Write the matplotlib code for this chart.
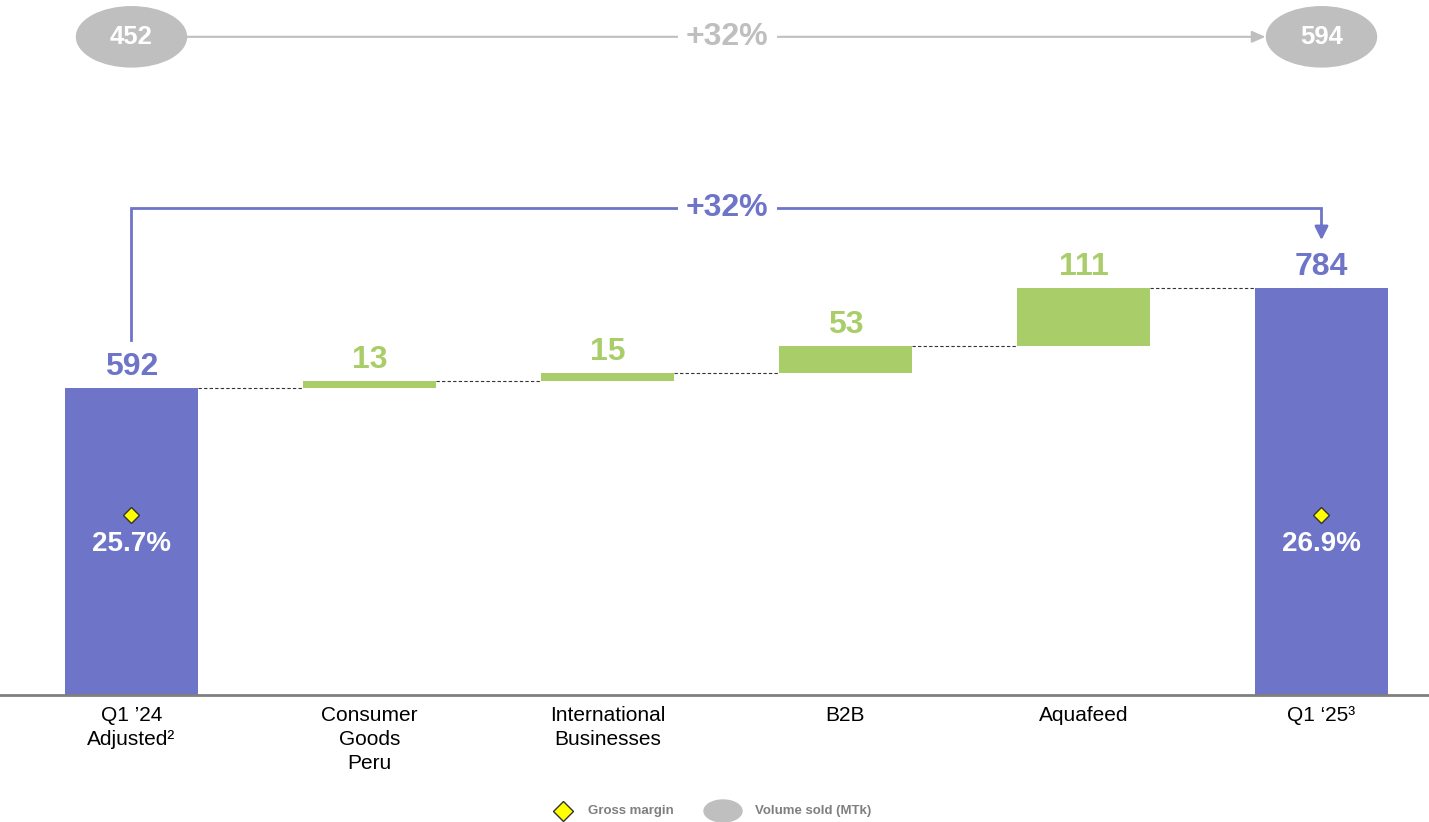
import matplotlib.pyplot as plt
from matplotlib.patches import Ellipse
from matplotlib.lines import Line2D

plt.rcParams['font.family'] = ['Liberation Sans', 'DejaVu Sans']

# Data
categories = ["Q1 \u201924\nAdjusted\u00b2", "Consumer\nGoods\nPeru", "International\nBusinesses",
              "B2B", "Aquafeed", "Q1 \u201825\u00b3"]
start_value = 592
changes = [13, 15, 53, 111]
end_value = 784
margins = ["25.7%", "26.9%"]
volume_start = 452
volume_end = 594
growth_label = "+32%"

purple = "#6E74C8"
green = "#A9CD68"
grey = "#BFBFBF"

fig = plt.figure(figsize=(14.29, 8.22), dpi=100)
ax = fig.add_axes([0, 127 / 822, 1, 695 / 822])
ax.set_xlim(-0.5525, 5.4517)
ax.set_ylim(0, 1340)

w = 0.56
# totals
ax.bar(0, start_value, width=w, color=purple)
ax.bar(5, end_value, width=w, color=purple)

# waterfall steps
level = start_value
for i, c in enumerate(changes, start=1):
    ax.bar(i, c, bottom=level, width=w, color=green)
    ax.plot([i - 1 + w / 2, i - w / 2], [level, level], ls=(0, (3, 2)), color="#333333", lw=0.8)
    ax.text(i, level + c + 12, str(c), ha="center", va="bottom", color=green,
            fontsize=23, fontweight="bold")
    level += c
ax.plot([4 + w / 2, 5 - w / 2], [level, level], ls=(0, (3, 2)), color="#333333", lw=0.8)

ax.text(0, start_value + 12, str(start_value), ha="center", va="bottom", color=purple,
        fontsize=23, fontweight="bold")
ax.text(5, end_value + 12, str(end_value), ha="center", va="bottom", color=purple,
        fontsize=23, fontweight="bold")

# gross margin markers
for x, m in zip([0, 5], margins):
    ax.plot(x, 347, marker="D", ms=8, color="#FFFF00", mec="#333333", mew=1)
    ax.text(x, 292, m, ha="center", va="center", color="white", fontsize=20, fontweight="bold")

# purple growth bracket
ax.plot([0, 0, 5, 5], [685, 939, 939, 900], color=purple, lw=2, solid_joinstyle="miter")
ax.annotate("", xy=(5, 877), xytext=(5, 905),
            arrowprops=dict(arrowstyle="-|>,head_length=0.8,head_width=0.4", color=purple,
                            lw=2, shrinkA=0, shrinkB=0))
ax.text(2.503, 939, growth_label, ha="center", va="center", color=purple, fontsize=23,
        fontweight="bold", bbox=dict(facecolor="white", edgecolor="none", pad=6))

# volume row
vy = 1269
for x, v in zip([0, 5], [volume_start, volume_end]):
    ax.add_patch(Ellipse((x, vy), 0.462, 116, color=grey, clip_on=False))
    ax.text(x, vy, str(v), ha="center", va="center", color="white", fontsize=18.5,
            fontweight="bold")
ax.annotate("", xy=(4.7647, vy), xytext=(0.231, vy),
            arrowprops=dict(arrowstyle="-|>,head_length=0.8,head_width=0.35", color=grey,
                            lw=1.5, shrinkA=0, shrinkB=0))
ax.text(2.503, vy, growth_label, ha="center", va="center", color=grey, fontsize=23,
        fontweight="bold", bbox=dict(facecolor="white", edgecolor="none", pad=6))

# axes styling
for s in ["top", "right", "left"]:
    ax.spines[s].set_visible(False)
ax.spines["bottom"].set_color("#808080")
ax.spines["bottom"].set_linewidth(2)
ax.set_yticks([])
ax.set_xticks(range(len(categories)))
ax.set_xticklabels(categories, fontsize=15, linespacing=1.32, va="top")
ax.tick_params(axis="x", length=0, pad=8)

# legend
fig.add_artist(Line2D([563 / 1429], [1 - 811 / 822], marker="D", ms=10, color="#FFFF00",
                      mec="#333333", mew=1, transform=fig.transFigure))
fig.text(588 / 1429, 1 - 811 / 822, "Gross margin", ha="left", va="center", color="#7F7F7F",
         fontsize=9.5, fontweight="bold")
fig.add_artist(Ellipse((723 / 1429, 1 - 811 / 822), 38 / 1429, 22 / 822, color=grey,
                       transform=fig.transFigure))
fig.text(755 / 1429, 1 - 811 / 822, "Volume sold (MTk)", ha="left", va="center",
         color="#7F7F7F", fontsize=9.5, fontweight="bold")

fig.savefig("out.png", dpi=100)
